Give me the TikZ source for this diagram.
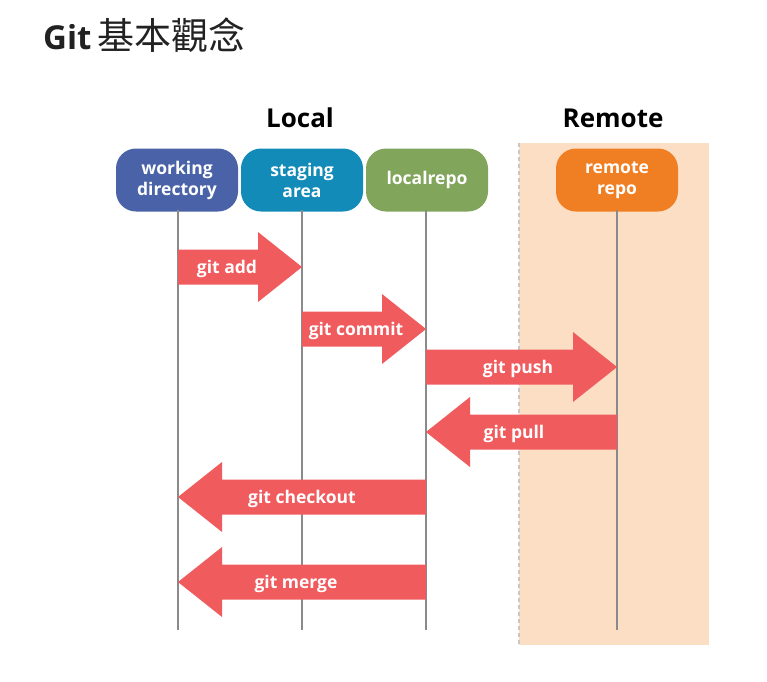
\documentclass[tikz,border=0pt]{standalone}
\usepackage{fontspec}
\setmainfont{Open Sans}
\newfontfamily\cjkfont{Noto Sans CJK TC}
\usetikzlibrary{calc}
\definecolor{cwd}{HTML}{4A63A8}
\definecolor{csa}{HTML}{138BB8}
\definecolor{clr}{HTML}{82A55C}
\definecolor{crr}{HTML}{F07F24}
\definecolor{carrow}{HTML}{F05B5E}
\definecolor{cbg}{HTML}{FCDEC5}
\definecolor{cline}{HTML}{8A8A8A}
\definecolor{ctitle}{HTML}{222222}
\tikzset{
  box/.style={rounded corners=20pt, minimum width=122pt, minimum height=63pt, inner sep=0pt,
    text=white, align=center, font=\bfseries\fontsize{17.5}{21}\selectfont},
  life/.style={draw=cline, line width=1.5pt},
  bigarrow/.style={fill=carrow},
  alabel/.style={text=white, font=\bfseries\fontsize{17.5}{21}\selectfont, inner sep=0pt},
  head/.style={text=black, font=\bfseries\fontsize{26}{30}\selectfont, inner sep=0pt}
}
\newcommand\rarrow[2]{% from, to (same y)
  \fill[bigarrow] ($(#1)+(0,-17.5)$) -- ($(#2)+(-44,-17.5)$) -- ($(#2)+(-44,-35)$) -- (#2)
    -- ($(#2)+(-44,35)$) -- ($(#2)+(-44,17.5)$) -- ($(#1)+(0,17.5)$) -- cycle;}
\newcommand\larrow[2]{% from, to (same y), pointing left
  \fill[bigarrow] ($(#1)+(0,-17.5)$) -- ($(#2)+(44,-17.5)$) -- ($(#2)+(44,-35)$) -- (#2)
    -- ($(#2)+(44,35)$) -- ($(#2)+(44,17.5)$) -- ($(#1)+(0,17.5)$) -- cycle;}
\begin{document}
\begin{tikzpicture}[x=1pt, y=-1pt]
\useasboundingbox (0,0) rectangle (767,681);
% remote background
\fill[cbg] (519,143) rectangle (709,645);
\draw[draw=black!22, line width=1.2pt, dash pattern=on 4pt off 3pt] (519,143) -- (519,645);
% title
\node[anchor=base west, inner sep=0pt, text=ctitle] (title) at (43,49)
  {{\bfseries\fontsize{33}{38}\selectfont Git}\hspace{6pt}{\cjkfont\fontsize{37}{42}\selectfont 基本觀念}};
% headers
\node[head] (local) at (300,118) {Local};
\node[head] (remote) at (613,118) {Remote};
% boxes
\node[box, fill=cwd] (wd) at (177,180) {working\\directory};
\node[box, fill=csa] (sa) at (302,180) {staging\\area};
\node[box, fill=clr] (lr) at (427,180) {localrepo};
\node[box, fill=crr] (rr) at (617,180) {remote\\repo};
% lifelines
\coordinate (bot) at (0,630);
\coordinate (top) at (0,210);
\foreach \n/\x in {wd/178,sa/302,lr/426,rr/617} {\draw[life] (\x,210) coordinate (\n top) -- (\n top |- bot);}
% arrow end points
\coordinate (add1) at (178,267);  \coordinate (add2) at (302,267);
\coordinate (com1) at (302,329);  \coordinate (com2) at (426,329);
\coordinate (push1) at (426,367); \coordinate (push2) at (617,367);
\coordinate (pull1) at (617,432); \coordinate (pull2) at (426,432);
\coordinate (co1) at (426,497);   \coordinate (co2) at (178,497);
\coordinate (mg1) at (426,582);   \coordinate (mg2) at (178,582);
\rarrow{add1}{add2}
\rarrow{com1}{com2}
\rarrow{push1}{push2}
\larrow{pull1}{pull2}
\larrow{co1}{co2}
\larrow{mg1}{mg2}
% labels
\node[alabel] (ladd) at (227,268.5) {git add};
\node[alabel] (lcom) at (356,330.5) {git commit};
\node[alabel] (lpush) at (518,368.5) {git push};
\node[alabel] (lpull) at (514,433.5) {git pull};
\node[alabel] (lco) at (302,498.5) {git checkout};
\node[alabel] (lmg) at (296,583.5) {git merge};
\end{tikzpicture}
\end{document}
